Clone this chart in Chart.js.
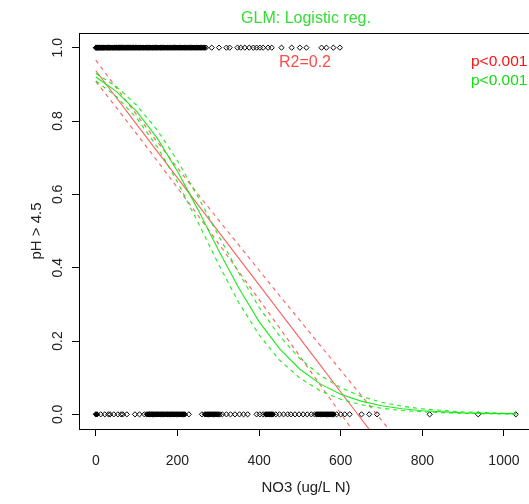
<html lang="en">

<head>
    <meta charset="UTF-8" />
    <title>GLM: Logistic reg.</title>
    <style>
        body {
            margin: 0;
            overflow: hidden;
            background: #fff;
        }
    </style>
</head>

<body>
    <canvas id="myChart" width="545" height="504"></canvas>

    <script src="https://cdn.jsdelivr.net/npm/chart.js"></script>

    <script>
        // observations: NO3 values with pH > 4.5 (y = 1) and not (y = 0)
        const obsHigh = [0, 1, 3, 4, 6, 8, 9, 11, 13, 15, 17, 18, 20, 22, 25, 27, 29, 31, 33, 35, 37, 40, 42, 44, 46,
            49, 51, 53, 56, 58, 60, 63, 65, 68, 70, 72, 75, 77, 80, 82, 85, 87, 90, 92, 95, 97, 100, 103, 105, 108,
            110, 113, 116, 118, 121, 124, 127, 129, 132, 135, 138, 140, 143, 146, 149, 152, 155, 158, 160, 163, 166,
            169, 172, 175, 178, 181, 184, 187, 190, 193, 196, 199, 202, 205, 208, 211, 214, 217, 220, 223, 226, 229,
            232, 235, 238, 241, 244, 247, 250, 253, 256, 259, 263, 266, 270, 284, 302, 320, 328, 347, 355, 365, 376,
            386, 394, 402, 410, 422, 431, 455, 480, 500, 516, 553, 565, 582, 598];
        const obsLow = [0, 3, 12, 22, 31, 35, 44, 54, 62, 66, 76, 96, 107, 119,
            125, 128, 131, 133, 136, 139, 141, 144, 147, 150, 152, 155, 158, 161, 163, 166, 169, 172, 175, 177, 180,
            183, 186, 189, 191, 194, 197, 200, 203, 206, 209, 212, 215, 218, 228, 260,
            267, 270, 273, 276, 279, 282, 285, 288, 291, 294, 297, 300, 304, 310, 320, 330, 341, 352, 362, 372,
            394, 402, 410, 416, 419, 422, 425, 428, 431, 434, 441, 450, 460, 470, 478, 488, 498, 508, 518, 528, 536,
            541, 544, 547, 550, 553, 556, 559, 562, 565, 568, 571, 574, 577, 580, 583, 590, 600, 610, 622,
            651, 670, 689, 818, 937, 1029];

        // fitted curves
        const fitX = [0, 50, 100, 150, 200, 250, 300, 350, 400, 450, 500, 550, 600, 650, 700, 750, 800, 900, 1030];
        const lmFit = [0.937, 0.864, 0.791, 0.718, 0.645, 0.572, 0.499, 0.426, 0.353, 0.280, 0.207, 0.134, 0.061,
            -0.012, -0.085, -0.158];
        const lmUpper = [0.966, 0.891, 0.817, 0.744, 0.672, 0.601, 0.531, 0.462, 0.393, 0.324, 0.256, 0.188, 0.120,
            0.052, -0.016, -0.084];
        const lmLower = [0.908, 0.837, 0.765, 0.692, 0.618, 0.543, 0.467, 0.390, 0.313, 0.236, 0.158, 0.080, 0.002,
            -0.076, -0.154, -0.232];
        const glmFit = [0.920, 0.881, 0.826, 0.754, 0.663, 0.559, 0.449, 0.345, 0.253, 0.179, 0.123, 0.083, 0.055,
            0.036, 0.0235, 0.0153, 0.0099, 0.0041, 0.0013];
        const glmUpper = [0.930, 0.894, 0.843, 0.776, 0.692, 0.594, 0.489, 0.386, 0.292, 0.214, 0.152, 0.106, 0.073,
            0.049, 0.0331, 0.0222, 0.0148, 0.0065, 0.0022];
        const glmLower = [0.909, 0.867, 0.808, 0.730, 0.634, 0.524, 0.411, 0.305, 0.217, 0.148, 0.099, 0.064, 0.041,
            0.0263, 0.0166, 0.0105, 0.0066, 0.0026, 0.0008];

        // axes
        const xTicks = [0, 200, 400, 600, 800, 1000];
        const yTicks = [0, 0.2, 0.4, 0.6, 0.8, 1.0];
        const yTickLabels = ["0.0", "0.2", "0.4", "0.6", "0.8", "1.0"];

        const RED = "rgba(255,40,40,0.75)";
        const GREEN = "rgba(0,235,0,0.9)";
        const font = '"Liberation Sans", Arial, sans-serif';

        function pts(xs, ys) {
            return ys.map((y, i) => ({ x: xs[i], y: y }));
        }

        function curve(ys, color, dashed) {
            return {
                type: "line",
                data: pts(fitX, ys),
                borderColor: color,
                borderWidth: 1.1,
                borderDash: dashed ? [4, 4] : [],
                pointRadius: 0,
                tension: 0,
                fill: false,
            };
        }

        // overlapping open diamonds merge into solid black, so fill the packed ones
        function packedFill(xs) {
            return (c) => {
                const i = c.dataIndex;
                const near = (i > 0 && xs[i] - xs[i - 1] < 4) || (i < xs.length - 1 && xs[i + 1] - xs[i] < 4);
                return near ? "#000" : "rgba(0,0,0,0)";
            };
        }

        function obs(xs, yv) {
            return {
                data: xs.map((x) => ({ x: x, y: yv })),
                pointStyle: "rectRot",
                pointRadius: 2.6,
                pointBorderColor: "#000",
                pointBackgroundColor: packedFill(xs),
                pointBorderWidth: 1,
            };
        }

        // box round the plot + text labels
        const extras = {
            id: "extras",
            afterDraw(chart) {
                const { ctx, chartArea: a } = chart;
                ctx.save();
                ctx.strokeStyle = "#000";
                ctx.lineWidth = 1;
                ctx.strokeRect(a.left + 0.5, a.top + 0.5, a.right - a.left, a.bottom - a.top);

                ctx.textBaseline = "alphabetic";
                ctx.textAlign = "center";
                ctx.font = "16px " + font;
                ctx.fillStyle = "#33dd33";
                ctx.fillText("GLM: Logistic reg.", (a.left + a.right) / 2, 23);
                ctx.fillStyle = "#ff4a4a";
                ctx.fillText("R2=0.2", 305, 67);

                ctx.textAlign = "left";
                ctx.font = "15.5px " + font;
                ctx.fillStyle = "#ff1010";
                ctx.fillText("p<0.001", 471, 66);
                ctx.fillStyle = "#10e010";
                ctx.fillText("p<0.001", 471, 85);
                ctx.restore();
            },
        };

        // config
        const config = {
            type: "scatter",
            data: {
                datasets: [
                    curve(glmFit, GREEN, false),
                    curve(glmUpper, GREEN, true),
                    curve(glmLower, GREEN, true),
                    curve(lmFit, RED, false),
                    curve(lmUpper, RED, true),
                    curve(lmLower, RED, true),
                    obs(obsHigh, 1),
                    obs(obsLow, 0),
                ],
            },
            options: {
                responsive: false,
                animation: false,
                devicePixelRatio: 1,
                layout: { padding: { top: 33, right: 12, left: 0, bottom: 0 } },
                plugins: { legend: { display: false }, tooltip: { enabled: false } },
                scales: {
                    x: {
                        type: "linear",
                        min: -41.2,
                        max: 1071.2,
                        afterFit: (s) => { s.height = 75; },
                        afterBuildTicks: (s) => { s.ticks = xTicks.map((v) => ({ value: v })); },
                        border: { display: false },
                        grid: { drawOnChartArea: false, drawTicks: true, tickLength: 7, color: "#000" },
                        ticks: {
                            padding: 17,
                            color: "#222",
                            font: { family: font, size: 14 },
                            callback: (v) => String(v),
                        },
                        title: {
                            display: true,
                            text: "NO3 (ug/L N)",
                            color: "#222",
                            font: { family: font, size: 15 },
                            padding: { bottom: 7, top: 0 },
                        },
                    },
                    y: {
                        type: "linear",
                        min: -0.04,
                        max: 1.04,
                        afterFit: (s) => { s.width = 79; },
                        afterBuildTicks: (s) => { s.ticks = yTicks.map((v) => ({ value: v })); },
                        border: { display: false },
                        grid: { drawOnChartArea: false, drawTicks: true, tickLength: 7, color: "#000" },
                        ticks: {
                            padding: 4,
                            minRotation: 90,
                            maxRotation: 90,
                            crossAlign: "center",
                            color: "#222",
                            font: { family: font, size: 14 },
                            callback: (v, i) => yTickLabels[i],
                        },
                        title: {
                            display: true,
                            text: "pH > 4.5",
                            color: "#222",
                            font: { family: font, size: 15 },
                            padding: { top: 28, bottom: 0 },
                        },
                    },
                },
            },
            plugins: [extras],
        };

        // render
        const myChart = new Chart(document.getElementById("myChart"), config);
    </script>
</body>

</html>
